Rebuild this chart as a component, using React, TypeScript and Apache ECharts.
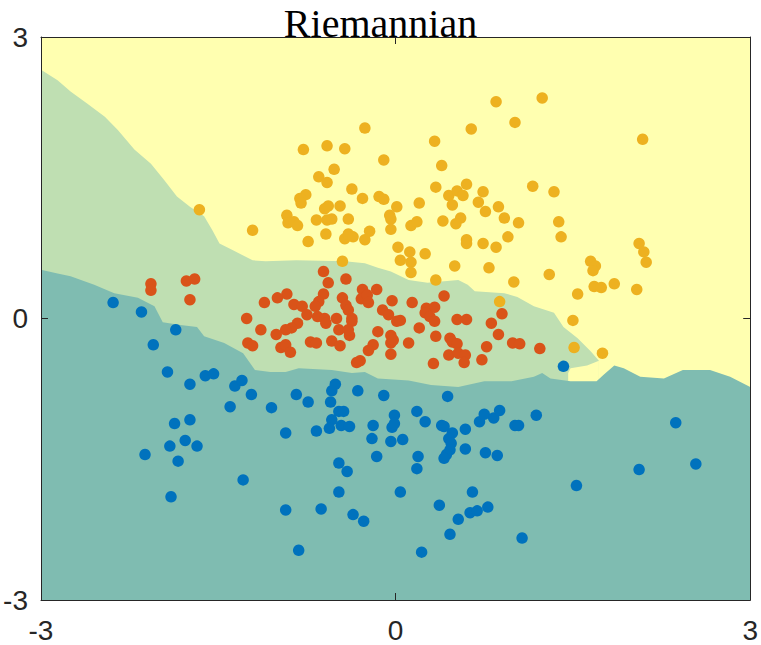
import React, { useEffect, useRef } from "react";
import * as echarts from "echarts";

// Decision-region boundaries (x, y in data units)
const greenTop: number[][] = [
  [-3.0, 2.65], [-2.86, 2.54], [-2.75, 2.42], [-2.61, 2.29], [-2.46, 2.15], [-2.35, 2.01],
  [-2.21, 1.8], [-2.07, 1.65], [-1.96, 1.48], [-1.85, 1.3], [-1.74, 1.19], [-1.62, 1.09],
  [-1.55, 0.94], [-1.49, 0.8], [-1.38, 0.73], [-1.21, 0.62], [-1.1, 0.61], [-0.84, 0.62],
  [-0.43, 0.61], [-0.26, 0.59], [-0.15, 0.54], [-0.04, 0.5], [0.11, 0.41], [0.27, 0.38],
  [0.53, 0.41], [0.61, 0.36], [0.67, 0.29], [0.92, 0.27], [1.03, 0.23], [1.17, 0.13],
  [1.34, 0.06], [1.42, -0.09], [1.54, -0.21], [1.65, -0.35], [1.72, -0.45],
];

const yellowNotch: number[][] = [
  [1.46, -0.58], [1.48, -0.53], [1.62, -0.5], [1.72, -0.45],
];

const tealTop: number[][] = [
  [-3.0, 0.52], [-2.86, 0.48], [-2.75, 0.45], [-2.55, 0.36], [-2.38, 0.27], [-2.18, 0.22],
  [-2.04, 0.13], [-1.97, -0.04], [-1.82, -0.07], [-1.68, -0.09], [-1.62, -0.19], [-1.45, -0.26],
  [-1.29, -0.37], [-1.19, -0.55], [-1.06, -0.57], [-0.93, -0.57], [-0.82, -0.53], [-0.54, -0.55],
  [-0.37, -0.58], [-0.26, -0.57], [-0.15, -0.64], [0.11, -0.66], [0.3, -0.71], [0.53, -0.73],
  [0.75, -0.67], [0.98, -0.67], [1.17, -0.62], [1.24, -0.58], [1.31, -0.64], [1.48, -0.67],
  [1.7, -0.67], [1.76, -0.6], [1.85, -0.5], [1.93, -0.53], [2.07, -0.62], [2.27, -0.64],
  [2.43, -0.55], [2.66, -0.55], [2.83, -0.62], [3.0, -0.73],
];

// Class 1 (blue)
const class1: number[][] = [
  [-2.39, 0.17], [-2.15, 0.07], [-1.86, -0.12], [-2.05, -0.28], [-1.93, -0.57], [-1.74, -0.7],
  [-1.61, -0.61], [-1.54, -0.59], [-1.36, -0.72], [-1.3, -0.66], [-1.22, -0.81], [-1.4, -0.94],
  [-1.05, -0.95], [-0.84, -0.81], [-0.74, -0.89], [-0.51, -0.7], [-0.54, -0.77], [-0.55, -0.89],
  [-0.48, -0.99], [-0.44, -0.99], [-0.54, -1.08], [-0.56, -1.17], [-0.46, -1.14], [-0.39, -1.15],
  [-0.67, -1.2], [-0.93, -1.22], [-1.87, -1.12], [-1.74, -1.08], [-1.78, -1.3], [-1.91, -1.36],
  [-1.68, -1.36], [-2.12, -1.45], [-1.84, -1.52], [-1.29, -1.72], [-1.9, -1.9], [-0.93, -2.04],
  [-0.63, -2.03], [-0.82, -2.47], [-0.48, -1.54], [-0.41, -1.63], [-0.48, -1.85], [-0.36, -2.09],
  [-0.27, -2.16], [-0.32, -0.77], [-0.16, -1.47], [-0.19, -1.14], [-0.2, -1.28], [-0.1, -0.82],
  [0.44, -0.83], [-0.01, -1.03], [0.18, -0.99], [0.25, -1.1], [-0.03, -1.16], [-0.01, -1.12],
  [-0.04, -1.31], [0.06, -1.29], [0.19, -1.47], [0.18, -1.6], [0.39, -1.14], [0.41, -1.15],
  [0.48, -1.22], [0.45, -1.28], [0.47, -1.33], [0.46, -1.4], [0.43, -1.45], [0.41, -1.49],
  [0.59, -1.18], [0.71, -1.1], [0.75, -1.02], [0.83, -1.06], [0.88, -0.98], [0.59, -1.39],
  [0.76, -1.43], [0.86, -1.46], [1.01, -1.14], [1.04, -1.14], [1.19, -1.03], [0.04, -1.85],
  [0.65, -1.85], [0.37, -1.99], [0.63, -2.07], [0.69, -2.05], [0.78, -2.01], [0.53, -2.14],
  [0.46, -2.3], [1.07, -2.34], [0.22, -2.49], [1.42, -0.51], [1.53, -1.78], [2.06, -1.61],
  [2.37, -1.11], [2.54, -1.55],
];

// Class 2 (red)
const class2: number[][] = [
  [-2.07, 0.37], [-2.07, 0.3], [-1.77, 0.4], [-1.7, 0.42], [-1.74, 0.2], [-0.61, 0.5],
  [-0.57, 0.38], [-0.42, 0.42], [-0.92, 0.26], [-1.0, 0.22], [-1.11, 0.17], [-0.61, 0.26],
  [-0.65, 0.18], [-0.68, 0.13], [-0.86, 0.15], [-0.79, 0.13], [-0.75, 0.04], [-1.26, 0.0],
  [-0.66, 0.02], [-0.6, 0.0], [-0.59, -0.05], [-0.5, 0.0], [-0.45, 0.22], [-0.42, 0.14],
  [-0.4, 0.09], [-0.37, 0.0], [-0.37, -0.03], [-0.28, 0.31], [-0.16, 0.31], [-0.29, 0.21],
  [-0.24, 0.25], [-0.23, 0.17], [-0.03, 0.19], [0.14, 0.17], [-0.11, 0.09], [-0.06, 0.04],
  [0.01, -0.03], [0.04, -0.02], [0.2, -0.1], [-1.14, -0.12], [-0.83, -0.05], [-0.88, -0.1],
  [-0.93, -0.12], [-1.01, -0.17], [-0.48, -0.12], [-0.39, -0.18], [-0.4, -0.12], [-0.15, -0.14],
  [-0.04, -0.18], [-1.25, -0.26], [-1.21, -0.29], [-0.97, -0.31], [-0.93, -0.28], [-0.89, -0.36],
  [-0.72, -0.25], [-0.67, -0.26], [-0.54, -0.24], [-0.47, -0.29], [-0.19, -0.28], [-0.23, -0.34],
  [-0.04, -0.26], [-0.02, -0.23], [-0.04, -0.38], [0.11, -0.26], [-0.3, -0.45], [-0.33, -0.47],
  [0.41, 0.24], [0.26, 0.11], [0.33, 0.12], [0.25, 0.06], [0.29, 0.02], [0.33, -0.03],
  [0.52, -0.01], [0.6, -0.01], [0.9, 0.05], [0.81, -0.05], [0.34, -0.19], [0.46, -0.21],
  [0.48, -0.25], [0.52, -0.27], [0.87, -0.17], [0.77, -0.3], [0.99, -0.26], [1.05, -0.27],
  [1.22, -0.32], [0.45, -0.39], [0.53, -0.37], [0.59, -0.39], [0.58, -0.47], [0.32, -0.48],
  [0.73, -0.44],
];

// Class 3 (yellow)
const class3: number[][] = [
  [-0.26, 2.03], [-0.78, 1.8], [-0.58, 1.84], [-0.43, 1.81], [-0.1, 1.69], [-0.52, 1.59],
  [-0.65, 1.51], [-0.58, 1.45], [-0.37, 1.38], [-0.76, 1.32], [-0.81, 1.28], [-0.8, 1.23],
  [-0.28, 1.28], [-0.14, 1.3], [-0.1, 1.27], [0.01, 1.19], [0.2, 1.23], [-1.66, 1.16],
  [-0.47, 1.2], [-0.6, 1.17], [-0.57, 1.2], [-0.92, 1.1], [-0.91, 1.02], [-0.86, 1.03],
  [-0.83, 0.99], [-0.67, 1.05], [-0.58, 1.05], [-0.54, 1.06], [-0.4, 1.06], [-0.05, 1.1],
  [-0.04, 1.06], [-0.04, 0.95], [-1.21, 0.94], [-0.59, 0.9], [-0.43, 0.85], [-0.4, 0.9],
  [-0.36, 0.87], [-0.22, 0.93], [-0.26, 0.84], [-0.74, 0.82], [0.13, 0.99], [0.18, 1.03],
  [0.02, 0.76], [0.12, 0.71], [0.04, 0.62], [0.13, 0.6], [0.25, 0.69], [-0.45, 0.61],
  [0.13, 0.49], [0.85, 2.31], [1.24, 2.35], [1.01, 2.09], [0.64, 2.02], [2.09, 1.91],
  [0.33, 1.89], [0.39, 1.63], [0.34, 1.4], [0.6, 1.43], [0.45, 1.31], [0.52, 1.36],
  [0.57, 1.31], [0.74, 1.35], [0.7, 1.24], [0.48, 1.21], [0.76, 1.14], [0.87, 1.19],
  [1.16, 1.41], [1.34, 1.35], [0.92, 1.07], [1.04, 1.02], [1.38, 1.03], [1.4, 0.87],
  [0.4, 1.04], [0.55, 1.07], [0.51, 1.01], [0.6, 0.84], [0.6, 0.8], [0.74, 0.8],
  [0.85, 0.76], [0.95, 0.87], [0.5, 0.56], [0.79, 0.54], [1.3, 0.47], [1.65, 0.61],
  [1.69, 0.56], [1.67, 0.51], [2.06, 0.8], [2.1, 0.71], [2.12, 0.6], [1.68, 0.34],
  [1.74, 0.33], [1.85, 0.37], [2.04, 0.31], [1.54, 0.26], [1.0, 0.39], [0.34, 0.41],
  [0.88, 0.18], [1.5, -0.02], [1.51, -0.31], [1.75, -0.37],
];

const ticks = [-3, 0, 3];

const REGION_YELLOW = "#FFFFB0";
const REGION_GREEN = "#BFDFB2";
const REGION_TEAL = "#7FBCB1";
const C1 = "#0072BD";
const C2 = "#D95319";
const C3 = "#EDB120";
const AXIS = "#262626";

function area(data: number[][], color: string) {
  return {
    type: "line",
    data,
    symbol: "none",
    showSymbol: false,
    silent: true,
    lineStyle: { width: 0, opacity: 0 },
    areaStyle: { color, opacity: 1, origin: "start" },
    z: 1,
  };
}

function scatter(data: number[][], color: string) {
  return {
    type: "scatter",
    data,
    symbol: "circle",
    symbolSize: 11.5,
    silent: true,
    itemStyle: { color, opacity: 1 },
    z: 3,
  };
}

export default function App() {
  const ref = useRef<HTMLDivElement>(null);
  useEffect(() => {
    if (!ref.current) return;
    const chart = echarts.init(ref.current, undefined, { renderer: "svg" });
    const lab = { fontSize: 28, color: AXIS, fontFamily: "Liberation Sans" };
    const axisCommon = {
      type: "value",
      min: ticks[0],
      max: ticks[ticks.length - 1],
      interval: 3,
      z: 10,
      axisLine: { show: true, onZero: false, lineStyle: { color: AXIS, width: 1 } },
      axisTick: { show: true, inside: true, length: 7, lineStyle: { color: AXIS, width: 1 } },
      splitLine: { show: false },
    };
    chart.setOption({
      animation: false,
      title: {
        text: "Riemannian",
        left: "center",
        top: -2,
        textStyle: { fontFamily: "Liberation Serif", fontSize: 40, fontWeight: "normal", color: "#000" },
      },
      grid: {
        left: 41,
        top: 37,
        width: 713,
        height: 563,
        show: true,
        backgroundColor: REGION_YELLOW,
        borderWidth: 0,
      },
      xAxis: [
        { ...axisCommon, position: "bottom", axisLabel: { ...lab, margin: 16 } },
        { ...axisCommon, position: "top", axisLabel: { show: false } },
      ],
      yAxis: [
        { ...axisCommon, position: "left", axisLabel: { ...lab, margin: 13 } },
        { ...axisCommon, position: "right", axisLabel: { show: false } },
      ],
      series: [
        area(greenTop, REGION_GREEN),
        area(yellowNotch, REGION_YELLOW),
        area(tealTop, REGION_TEAL),
        scatter(class1, C1),
        scatter(class2, C2),
        scatter(class3, C3),
      ],
    });
    return () => chart.dispose();
  }, []);
  return (
    <div
      ref={ref}
      style={{ position: "absolute", left: 0, top: 0, width: 761, height: 645 }}
    />
  );
}
